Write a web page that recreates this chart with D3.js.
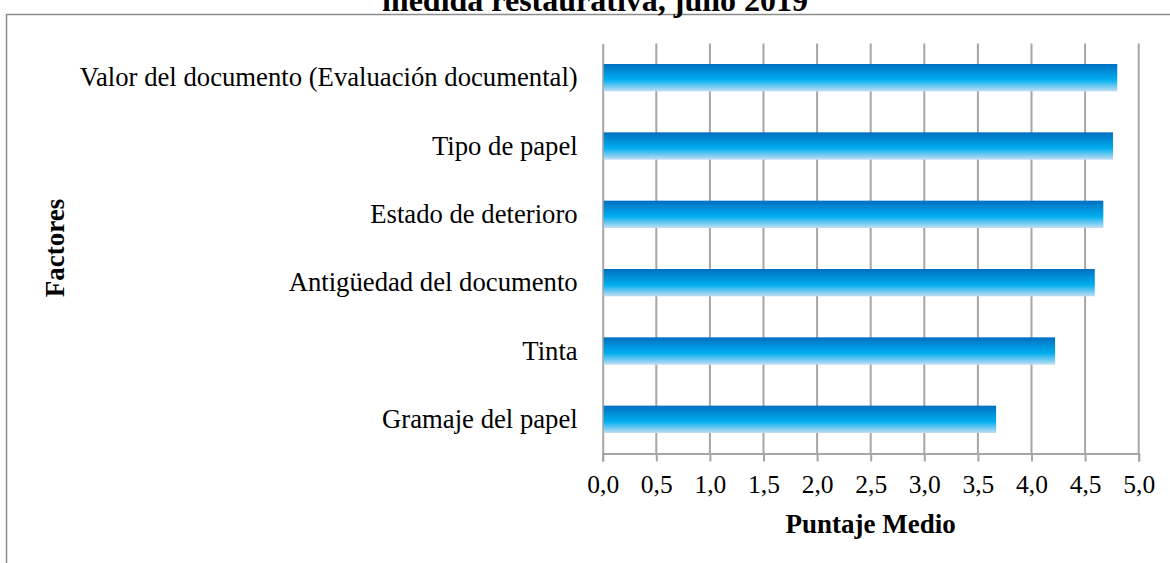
<!DOCTYPE html>
<html>
<head>
<meta charset="utf-8">
<script src="https://cdn.jsdelivr.net/npm/d3@7"></script>
<style>
  html, body { margin: 0; padding: 0; background: #fff; }
  svg { display: block; }
  text { font-family: "Liberation Serif", "Times New Roman", serif; fill: #000; }
</style>
</head>
<body>
<svg id="chart" width="1170" height="563"></svg>
<script>
// Factores evaluados y su puntaje medio (de arriba hacia abajo)
const factores = [
  "Valor del documento (Evaluación documental)",
  "Tipo de papel",
  "Estado de deterioro",
  "Antigüedad del documento",
  "Tinta",
  "Gramaje del papel"
];
const puntajes = [4.80, 4.76, 4.67, 4.59, 4.22, 3.67];
const ticks = [0, 0.5, 1, 1.5, 2, 2.5, 3, 3.5, 4, 4.5, 5];
const titulo = "medida restaurativa, julio 2019";
const ejeX = "Puntaje Medio";
const ejeY = "Factores";

const svg = d3.select("#chart");
const plot = { left: 602.7, right: 1138.7, top: 43.5, bottom: 453.5 };
const gridColor = "#a6a6a6";

// Marco del área del gráfico
svg.append("rect")
  .attr("x", 6.5).attr("y", 14.5)
  .attr("width", 1200).attr("height", 600)
  .attr("fill", "none").attr("stroke", "#8c8c8c").attr("stroke-width", 1.5);

// Título (la parte superior queda fuera del lienzo)
svg.append("text")
  .attr("x", 595).attr("y", 11)
  .attr("text-anchor", "middle")
  .style("font-size", "32px").style("font-weight", "bold")
  .text(titulo);

const x = d3.scaleLinear().domain([0, 5]).range([plot.left, plot.right]);
const y = d3.scaleBand().domain(factores).range([plot.top, plot.bottom]).paddingInner(0.6).paddingOuter(0.3);

// Degradado vertical de las barras
const grad = svg.append("defs").append("linearGradient")
  .attr("id", "barGrad").attr("x1", 0).attr("y1", 0).attr("x2", 0).attr("y2", 1);
grad.append("stop").attr("offset", "0%").attr("stop-color", "#006fc0");
grad.append("stop").attr("offset", "58%").attr("stop-color", "#00aeef");
grad.append("stop").attr("offset", "100%").attr("stop-color", "#c2def3");

// Líneas de cuadrícula verticales
svg.append("g")
  .selectAll("line")
  .data(ticks.slice(1))
  .join("line")
  .attr("x1", d => x(d)).attr("x2", d => x(d))
  .attr("y1", plot.top).attr("y2", plot.bottom)
  .attr("stroke", gridColor).attr("stroke-width", 2);

// Eje X
const xAxis = d3.axisBottom(x)
  .tickValues(ticks)
  .tickSize(8)
  .tickPadding(13)
  .tickFormat(d => d.toFixed(1).replace(".", ","));
const gx = svg.append("g")
  .attr("transform", `translate(0,${plot.bottom})`)
  .call(xAxis);
gx.select(".domain").attr("stroke", gridColor).attr("stroke-width", 2);
gx.selectAll(".tick line").attr("stroke", gridColor).attr("stroke-width", 2);
gx.selectAll(".tick text")
  .style("font-family", "'Liberation Serif', 'Times New Roman', serif")
  .style("font-size", "25.5px").attr("fill", "#000");

// Eje Y
const yAxis = d3.axisLeft(y).tickSize(0).tickPadding(25);
const gy = svg.append("g")
  .attr("transform", `translate(${plot.left},0)`)
  .call(yAxis);
gy.select(".domain").attr("stroke", gridColor).attr("stroke-width", 2);
gy.selectAll(".tick text")
  .style("font-family", "'Liberation Serif', 'Times New Roman', serif")
  .style("font-size", "26.7px").attr("fill", "#000");

// Barras
svg.append("g")
  .selectAll("rect")
  .data(factores.map((f, i) => ({ f, v: puntajes[i] })))
  .join("rect")
  .attr("x", x(0) + 1)
  .attr("y", d => y(d.f))
  .attr("width", d => x(d.v) - x(0) - 1)
  .attr("height", y.bandwidth())
  .attr("fill", "url(#barGrad)");

// Títulos de los ejes
svg.append("text")
  .attr("x", (plot.left + plot.right) / 2).attr("y", 533)
  .attr("text-anchor", "middle")
  .style("font-size", "27px").style("font-weight", "bold")
  .text(ejeX);

svg.append("text")
  .attr("transform", "translate(64,248) rotate(-90)")
  .attr("text-anchor", "middle")
  .style("font-size", "27px").style("font-weight", "bold")
  .text(ejeY);
</script>
</body>
</html>
